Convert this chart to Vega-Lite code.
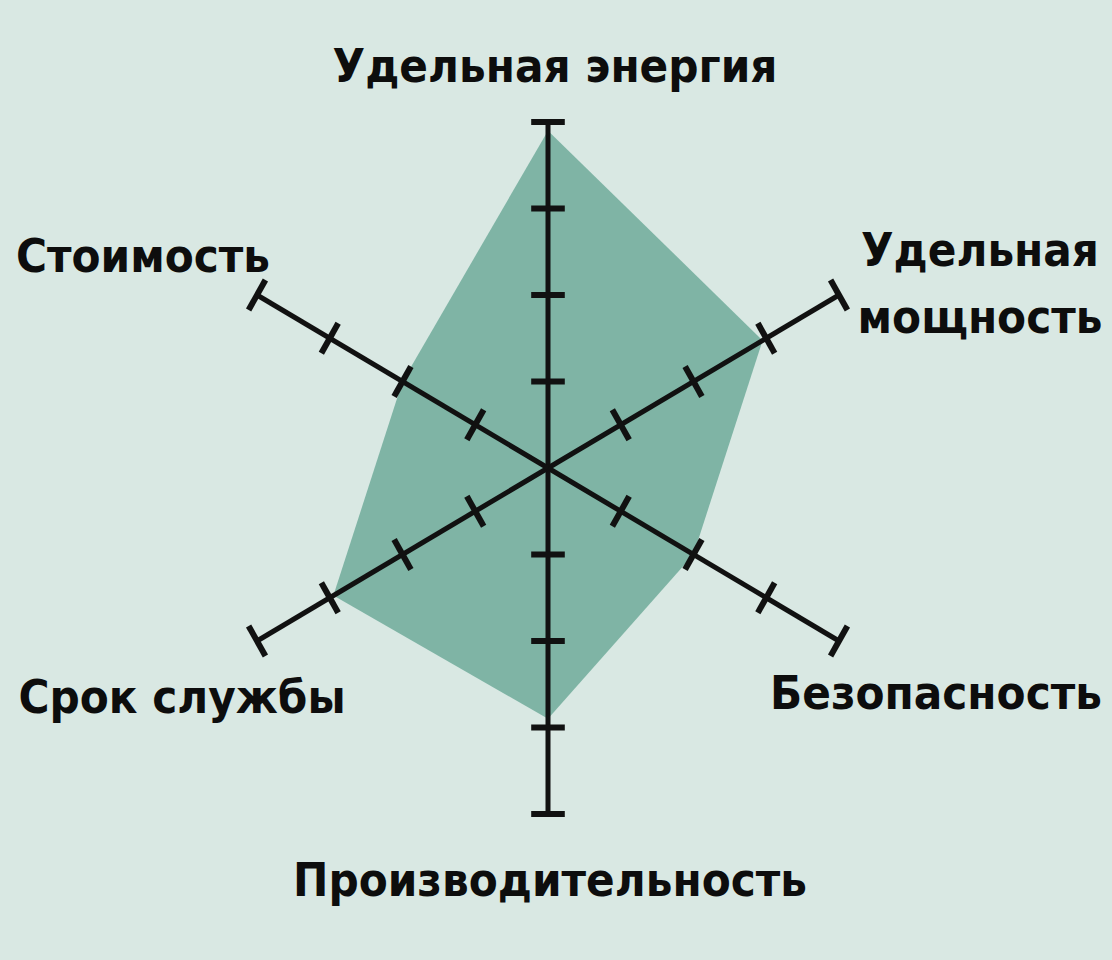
{
  "$schema": "https://vega.github.io/schema/vega-lite/v6.json",
  "width": 1112,
  "height": 960,
  "padding": 0,
  "autosize": {"type": "none"},
  "background": "#d9e8e3",
  "config": {
    "view": {"stroke": null},
    "text": {"font": "DejaVu Sans Condensed, Roboto, sans-serif", "fontSize": 47, "fontWeight": "bold", "color": "#0d0d0d"}
  },
  "data": {
    "values": [
      {"axis": "Удельная энергия", "idx": 0, "value": 3.9, "ticks": [1, 2, 3, 4]},
      {"axis": "Удельная мощность", "idx": 1, "value": 2.95, "ticks": [1, 2, 3, 4]},
      {"axis": "Безопасность", "idx": 2, "value": 2.0, "ticks": [1, 2, 3, 4]},
      {"axis": "Производительность", "idx": 3, "value": 2.9, "ticks": [1, 2, 3, 4]},
      {"axis": "Срок службы", "idx": 4, "value": 2.95, "ticks": [1, 2, 3, 4]},
      {"axis": "Стоимость", "idx": 5, "value": 2.0, "ticks": [1, 2, 3, 4]}
    ]
  },
  "transform": [
    {"calculate": "datum.idx * PI / 3", "as": "theta"},
    {"calculate": "datum.value * sin(datum.theta)", "as": "px"},
    {"calculate": "datum.value * cos(datum.theta)", "as": "py"},
    {"calculate": "4 * sin(datum.theta)", "as": "ex"},
    {"calculate": "4 * cos(datum.theta)", "as": "ey"},
    {"calculate": "0", "as": "cx"}
  ],
  "layer": [
    {
      "mark": {"type": "line", "interpolate": "linear-closed", "fill": "#7fb4a5", "strokeOpacity": 0},
      "encoding": {
        "x": {"field": "px", "type": "quantitative", "scale": {"domain": [-6.5238, 6.7143], "nice": false, "zero": false}, "axis": null},
        "y": {"field": "py", "type": "quantitative", "scale": {"domain": [-5.6879, 5.4104], "nice": false, "zero": false}, "axis": null},
        "order": {"field": "idx", "type": "quantitative"}
      }
    },
    {
      "mark": {"type": "rule", "stroke": "#111111", "strokeWidth": 5, "strokeCap": "butt"},
      "encoding": {
        "x": {"field": "cx", "type": "quantitative"},
        "y": {"field": "cx", "type": "quantitative"},
        "x2": {"field": "ex"},
        "y2": {"field": "ey"}
      }
    },
    {
      "transform": [
        {"flatten": ["ticks"], "as": ["level"]},
        {"calculate": "datum.level * sin(datum.theta) + 0.2 * cos(datum.theta)", "as": "tx1"},
        {"calculate": "datum.level * sin(datum.theta) - 0.2 * cos(datum.theta)", "as": "tx2"},
        {"calculate": "datum.level * cos(datum.theta) - 0.2 * sin(datum.theta)", "as": "ty1"},
        {"calculate": "datum.level * cos(datum.theta) + 0.2 * sin(datum.theta)", "as": "ty2"}
      ],
      "mark": {"type": "rule", "stroke": "#111111", "strokeWidth": 6, "strokeCap": "butt"},
      "encoding": {
        "x": {"field": "tx1", "type": "quantitative"},
        "y": {"field": "ty1", "type": "quantitative"},
        "x2": {"field": "tx2"},
        "y2": {"field": "ty2"}
      }
    },
    {
      "transform": [{"filter": "datum.idx == 0"}],
      "mark": {"type": "text", "align": "center", "baseline": "alphabetic", "dx": 7, "dy": -40},
      "encoding": {"x": {"field": "ex", "type": "quantitative"}, "y": {"field": "ey", "type": "quantitative"}, "text": {"field": "axis", "type": "nominal"}}
    },
    {
      "transform": [{"filter": "datum.idx == 1"}],
      "mark": {"type": "text", "align": "center", "baseline": "alphabetic", "dx": 141, "dy": -29, "lineBreak": " ", "lineHeight": 67},
      "encoding": {"x": {"field": "ex", "type": "quantitative"}, "y": {"field": "ey", "type": "quantitative"}, "text": {"field": "axis", "type": "nominal"}}
    },
    {
      "transform": [{"filter": "datum.idx == 2"}],
      "mark": {"type": "text", "align": "center", "baseline": "alphabetic", "dx": 97, "dy": 68},
      "encoding": {"x": {"field": "ex", "type": "quantitative"}, "y": {"field": "ey", "type": "quantitative"}, "text": {"field": "axis", "type": "nominal"}}
    },
    {
      "transform": [{"filter": "datum.idx == 3"}],
      "mark": {"type": "text", "align": "center", "baseline": "alphabetic", "dx": 2, "dy": 82},
      "encoding": {"x": {"field": "ex", "type": "quantitative"}, "y": {"field": "ey", "type": "quantitative"}, "text": {"field": "axis", "type": "nominal"}}
    },
    {
      "transform": [{"filter": "datum.idx == 4"}],
      "mark": {"type": "text", "align": "center", "baseline": "alphabetic", "dx": -75, "dy": 72},
      "encoding": {"x": {"field": "ex", "type": "quantitative"}, "y": {"field": "ey", "type": "quantitative"}, "text": {"field": "axis", "type": "nominal"}}
    },
    {
      "transform": [{"filter": "datum.idx == 5"}],
      "mark": {"type": "text", "align": "center", "baseline": "alphabetic", "dx": -114, "dy": -23},
      "encoding": {"x": {"field": "ex", "type": "quantitative"}, "y": {"field": "ey", "type": "quantitative"}, "text": {"field": "axis", "type": "nominal"}}
    }
  ]
}
